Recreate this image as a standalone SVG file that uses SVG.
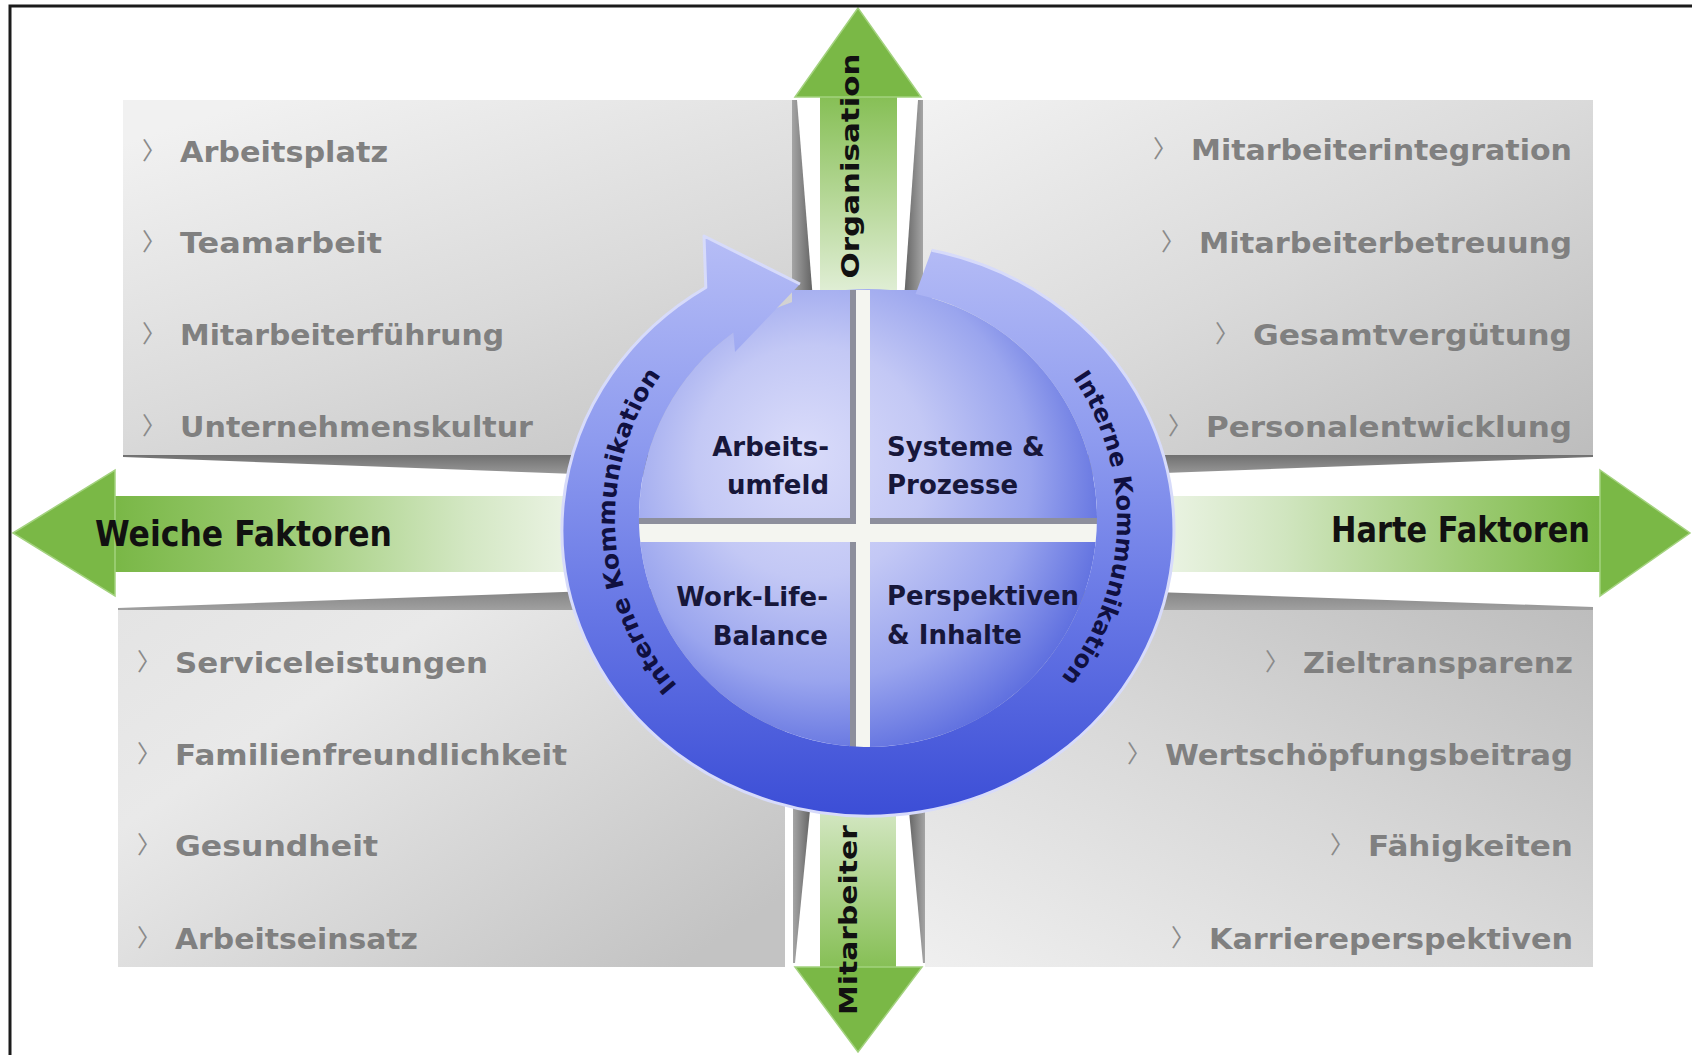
<svg xmlns="http://www.w3.org/2000/svg" width="1692" height="1055" viewBox="0 0 1692 1055">
<defs>
  <linearGradient id="gTL" x1="0.2" y1="0" x2="0.8" y2="1"><stop offset="0" stop-color="#f1f1f1"/><stop offset="0.6" stop-color="#dadada"/><stop offset="1" stop-color="#c8c8c8"/></linearGradient>
  <linearGradient id="gTR" x1="0" y1="0" x2="1" y2="1"><stop offset="0" stop-color="#f2f2f2"/><stop offset="0.5" stop-color="#dadada"/><stop offset="1" stop-color="#bdbdbd"/></linearGradient>
  <linearGradient id="gBL" x1="0" y1="0" x2="1" y2="0.8"><stop offset="0" stop-color="#e4e4e4"/><stop offset="0.3" stop-color="#e9e9e9"/><stop offset="1" stop-color="#c3c3c3"/></linearGradient>
  <linearGradient id="gBR" x1="0" y1="1" x2="1" y2="0"><stop offset="0" stop-color="#efefef"/><stop offset="0.5" stop-color="#d8d8d8"/><stop offset="1" stop-color="#bdbdbd"/></linearGradient>
  <linearGradient id="wTop" x1="0" y1="0" x2="0" y2="1"><stop offset="0" stop-color="#707070"/><stop offset="1" stop-color="#a9a9a9"/></linearGradient>
  <linearGradient id="wBot" x1="0" y1="0" x2="0" y2="1"><stop offset="0" stop-color="#7a7a7a"/><stop offset="1" stop-color="#a0a0a0"/></linearGradient>
  <linearGradient id="wLeft" x1="0" y1="0" x2="1" y2="0"><stop offset="0" stop-color="#a5a5a5"/><stop offset="1" stop-color="#626262"/></linearGradient>
  <linearGradient id="wRight" x1="0" y1="0" x2="1" y2="0"><stop offset="0" stop-color="#626262"/><stop offset="1" stop-color="#a5a5a5"/></linearGradient>
  <linearGradient id="gShaftL" x1="0" y1="0" x2="1" y2="0"><stop offset="0" stop-color="#79b746"/><stop offset="0.35" stop-color="#9ccb73"/><stop offset="0.75" stop-color="#d3e7c3"/><stop offset="1" stop-color="#eef5e8"/></linearGradient>
  <linearGradient id="gShaftR" x1="0" y1="0" x2="1" y2="0"><stop offset="0" stop-color="#eef5e8"/><stop offset="0.3" stop-color="#d0e5bf"/><stop offset="0.7" stop-color="#9dcb74"/><stop offset="1" stop-color="#7ab846"/></linearGradient>
  <linearGradient id="gShaftT" x1="0" y1="0" x2="0" y2="1"><stop offset="0" stop-color="#86bf55"/><stop offset="0.55" stop-color="#b9d99c"/><stop offset="1" stop-color="#e2efd8"/></linearGradient>
  <linearGradient id="gShaftB" x1="0" y1="0" x2="0" y2="1"><stop offset="0" stop-color="#e2efd8"/><stop offset="0.45" stop-color="#b9d99c"/><stop offset="1" stop-color="#86bf55"/></linearGradient>
  <linearGradient id="gBand" gradientUnits="userSpaceOnUse" x1="0" y1="236" x2="0" y2="818"><stop offset="0" stop-color="#b6bdf6"/><stop offset="0.35" stop-color="#8e9bef"/><stop offset="0.65" stop-color="#6676e5"/><stop offset="1" stop-color="#3b4dd6"/></linearGradient>
  <radialGradient id="gDisk" gradientUnits="userSpaceOnUse" cx="830" cy="480" r="290" fx="800" fy="450"><stop offset="0" stop-color="#dadcfa"/><stop offset="0.4" stop-color="#c3c8f5"/><stop offset="0.72" stop-color="#9aa5ee"/><stop offset="1" stop-color="#5a6bde"/></radialGradient>
  <path id="arcL" d="M 752.05 743.6 A 251 251 0 0 1 729.3 309.5"/>
  <path id="arcR" d="M 999.8 307.6 A 251 251 0 0 1 983.1 742"/>
</defs>
<style>
  .item { font-family: "DejaVu Sans", sans-serif; font-weight: bold; font-size: 29px; fill: #808080; }
  .chev { font-family: "Noto Sans CJK SC", sans-serif; font-size: 24px; fill: #8a8a8a; }
  .quad { font-family: "DejaVu Sans", sans-serif; font-weight: bold; font-size: 26px; fill: #17173a; }
  .lbl { font-family: "DejaVu Sans", sans-serif; font-weight: bold; fill: #111111; }
  .ring { font-family: "DejaVu Sans", sans-serif; font-weight: bold; font-size: 24px; fill: #101040; }
  .head { fill: #7ab846; stroke: #a3d27e; stroke-width: 1.5; }
  .cross-sh { fill: #8d8f9c; }
  .cross-w { fill: #f4f5f0; }
</style>
<rect x="0" y="0" width="1692" height="1055" fill="#ffffff"/>

<g id="panel-tl">
  <rect x="123" y="100" width="669" height="355" fill="url(#gTL)"/>
  <polygon points="123,455 792,455 792,482 123,457" fill="url(#wTop)"/>
  <polygon points="792,100 797,100 813,300 792,300" fill="url(#wLeft)"/>
  <text class="chev" x="142" y="159">〉</text><text class="item" x="180" y="162" textLength="208" lengthAdjust="spacingAndGlyphs">Arbeitsplatz</text>
  <text class="chev" x="142" y="250">〉</text><text class="item" x="180" y="253" textLength="202" lengthAdjust="spacingAndGlyphs">Teamarbeit</text>
  <text class="chev" x="142" y="342">〉</text><text class="item" x="180" y="345" textLength="324" lengthAdjust="spacingAndGlyphs">Mitarbeiterführung</text>
  <text class="chev" x="142" y="434">〉</text><text class="item" x="180" y="437" textLength="353" lengthAdjust="spacingAndGlyphs">Unternehmenskultur</text>
</g>

<g id="panel-tr">
  <rect x="923" y="100" width="670" height="355" fill="url(#gTR)"/>
  <polygon points="923,455 1593,455 1593,457 923,482" fill="url(#wTop)"/>
  <polygon points="918,100 923,100 923,300 904,300" fill="url(#wRight)"/>
  <text class="chev" x="1153" y="157">〉</text><text class="item" x="1572" y="160" text-anchor="end" textLength="381" lengthAdjust="spacingAndGlyphs">Mitarbeiterintegration</text>
  <text class="chev" x="1161" y="250">〉</text><text class="item" x="1572" y="253" text-anchor="end" textLength="373" lengthAdjust="spacingAndGlyphs">Mitarbeiterbetreuung</text>
  <text class="chev" x="1215" y="342">〉</text><text class="item" x="1572" y="345" text-anchor="end" textLength="319" lengthAdjust="spacingAndGlyphs">Gesamtvergütung</text>
  <text class="chev" x="1168" y="434">〉</text><text class="item" x="1572" y="437" text-anchor="end" textLength="366" lengthAdjust="spacingAndGlyphs">Personalentwicklung</text>
</g>

<g id="panel-bl">
  <rect x="118" y="610" width="667" height="357" fill="url(#gBL)"/>
  <polygon points="118,608 785,584 785,610 118,610" fill="url(#wBot)"/>
  <polygon points="793,800 811,800 795,963 793,963" fill="url(#wLeft)"/>
  <text class="chev" x="137" y="670">〉</text><text class="item" x="175" y="673" textLength="313" lengthAdjust="spacingAndGlyphs">Serviceleistungen</text>
  <text class="chev" x="137" y="762">〉</text><text class="item" x="175" y="765" textLength="392" lengthAdjust="spacingAndGlyphs">Familienfreundlichkeit</text>
  <text class="chev" x="137" y="853">〉</text><text class="item" x="175" y="856" textLength="203" lengthAdjust="spacingAndGlyphs">Gesundheit</text>
  <text class="chev" x="137" y="946">〉</text><text class="item" x="175" y="949" textLength="243" lengthAdjust="spacingAndGlyphs">Arbeitseinsatz</text>
</g>

<g id="panel-br">
  <rect x="925" y="610" width="668" height="357" fill="url(#gBR)"/>
  <polygon points="925,584 1593,607 1593,610 925,610" fill="url(#wBot)"/>
  <polygon points="908,800 925,800 925,963 923,963" fill="url(#wRight)"/>
  <text class="chev" x="1265" y="670">〉</text><text class="item" x="1573" y="673" text-anchor="end" textLength="270" lengthAdjust="spacingAndGlyphs">Zieltransparenz</text>
  <text class="chev" x="1127" y="762">〉</text><text class="item" x="1573" y="765" text-anchor="end" textLength="408" lengthAdjust="spacingAndGlyphs">Wertschöpfungsbeitrag</text>
  <text class="chev" x="1330" y="853">〉</text><text class="item" x="1573" y="856" text-anchor="end" textLength="205" lengthAdjust="spacingAndGlyphs">Fähigkeiten</text>
  <text class="chev" x="1171" y="946">〉</text><text class="item" x="1573" y="949" text-anchor="end" textLength="364" lengthAdjust="spacingAndGlyphs">Karriereperspektiven</text>
</g>

<g id="connectors">
  <g id="arrow-weiche">
    <rect x="114" y="496" width="470" height="76" fill="url(#gShaftL)"/>
    <polygon class="head" points="13,533 115,470 115,596"/>
    <text class="lbl" x="95" y="546" font-size="35" textLength="297" lengthAdjust="spacingAndGlyphs">Weiche Faktoren</text>
  </g>
  <g id="arrow-harte">
    <rect x="1150" y="496" width="452" height="76" fill="url(#gShaftR)"/>
    <polygon class="head" points="1600,470 1690,533 1600,596"/>
    <text class="lbl" x="1331" y="542" font-size="35" textLength="259" lengthAdjust="spacingAndGlyphs">Harte Faktoren</text>
  </g>
  <g id="arrow-organisation">
    <rect x="820" y="96" width="77" height="200" fill="url(#gShaftT)"/>
    <polygon class="head" points="858,8 795,97 921,97"/>
    <text class="lbl" font-size="25" transform="translate(859 166) rotate(-90)" text-anchor="middle" textLength="225" lengthAdjust="spacingAndGlyphs">Organisation</text>
  </g>
  <g id="arrow-mitarbeiter">
    <rect x="820" y="780" width="76" height="188" fill="url(#gShaftB)"/>
    <polygon class="head" points="795,967 922,967 858,1052"/>
    <text class="lbl" font-size="25" transform="translate(857 920) rotate(-90)" text-anchor="middle" textLength="190" lengthAdjust="spacingAndGlyphs">Mitarbeiter</text>
  </g>
</g>

<g id="circle">
  <g id="disk">
    <circle cx="868" cy="518" r="229" fill="url(#gDisk)"/>
    <rect x="792" y="290" width="140" height="60" fill="url(#gDisk)"/>
  </g>
  <g id="cross">
    <rect class="cross-sh" x="850" y="290" width="6" height="458"/>
    <rect class="cross-sh" x="639" y="518" width="458" height="6"/>
    <rect class="cross-w" x="856" y="290" width="14" height="458"/>
    <rect class="cross-w" x="639" y="524" width="458" height="18"/>
  </g>
  <path id="ring-band" d="M 931.6 250.3 A 306 286 0 1 1 705.8 287.5 L 704 236 L 800 284 L 735 352 L 733.4 332.7 A 229 229 0 1 0 915.6 294 Z" fill="url(#gBand)"/>
  <path id="ring-rim" d="M 931.6 250.3 A 306 286 0 1 1 705.8 287.5 L 704 236 L 800 284" fill="none" stroke="#d7dbfa" stroke-width="3" stroke-linejoin="round"/>
  <text class="ring"><textPath href="#arcL" startOffset="50%" text-anchor="middle" textLength="335" lengthAdjust="spacingAndGlyphs">Interne Kommunikation</textPath></text>
  <text class="ring"><textPath href="#arcR" startOffset="50%" text-anchor="middle" textLength="322" lengthAdjust="spacingAndGlyphs">Interne Kommunikation</textPath></text>
  <g id="q-arbeitsumfeld">
    <text class="quad" x="829" y="456" text-anchor="end">Arbeits-</text>
    <text class="quad" x="829" y="494" text-anchor="end">umfeld</text>
  </g>
  <g id="q-systeme">
    <text class="quad" x="887" y="456">Systeme &amp;</text>
    <text class="quad" x="887" y="494">Prozesse</text>
  </g>
  <g id="q-worklife">
    <text class="quad" x="828" y="606" text-anchor="end">Work-Life-</text>
    <text class="quad" x="828" y="645" text-anchor="end">Balance</text>
  </g>
  <g id="q-perspektiven">
    <text class="quad" x="887" y="605" textLength="192" lengthAdjust="spacingAndGlyphs">Perspektiven</text>
    <text class="quad" x="887" y="644">&amp; Inhalte</text>
  </g>
</g>

<rect x="10" y="6" width="1700" height="1070" fill="none" stroke="#1b1b1b" stroke-width="3"/>
</svg>
